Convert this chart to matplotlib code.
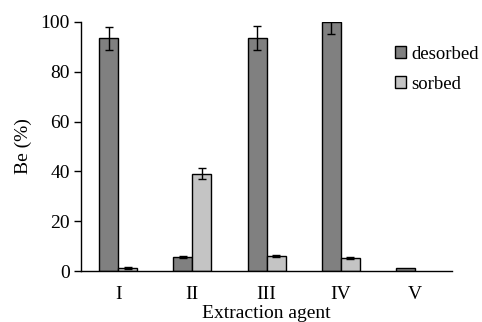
import numpy as np
import matplotlib
matplotlib.use("Agg")
from matplotlib import pyplot as plt

agents = ["I", "II", "III", "IV", "V"]
desorbed = [93.4, 5.7, 93.4, 99.9, 1.3]
desorbed_err = [4.7, 0.4, 4.8, 4.7, np.nan]
sorbed = [1.3, 39.1, 6.0, 5.2, 0.0]
sorbed_err = [0.3, 2.1, 0.3, 0.3, np.nan]

plt.rcParams['font.family'] = ['Liberation Serif', 'DejaVu Serif']
plt.rcParams['font.size'] = 14

fig = plt.figure(figsize=(4.82, 3.22), dpi=100)
ax = fig.add_axes([0.168, 0.158, 0.770, 0.774])

x = np.arange(len(agents))
width = 0.256
ax.bar(x - width / 2, desorbed, width, color='#808080', edgecolor='black',
       linewidth=[1.0 if v > 0 else 0 for v in desorbed],
       label='desorbed', zorder=2)
ax.bar(x + width / 2, sorbed, width, color='#c4c4c4', edgecolor='black',
       linewidth=[1.0 if v > 0 else 0 for v in sorbed],
       label='sorbed', zorder=2)
ax.errorbar(x - width / 2, desorbed, yerr=desorbed_err, fmt='none',
            ecolor='black', elinewidth=1.0, capsize=3, capthick=1.0, zorder=3)
ax.errorbar(x + width / 2, sorbed, yerr=sorbed_err, fmt='none',
            ecolor='black', elinewidth=1.0, capsize=3, capthick=1.0, zorder=3)

ax.set_xlim(-0.5, len(agents) - 0.5)
ax.set_ylim(0, 100)
ax.set_yticks([0, 20, 40, 60, 80, 100])
ax.set_xticks(x, agents)
ax.tick_params(axis='x', length=0, pad=11)
ax.tick_params(axis='y', direction='out', length=5, width=1.0, pad=3)
ax.spines['top'].set_visible(False)
ax.spines['right'].set_visible(False)
ax.spines['left'].set_linewidth(1.0)
ax.spines['bottom'].set_linewidth(1.0)
ax.set_ylabel("Be (%)", labelpad=6)
ax.set_xlabel("Extraction agent", labelpad=1)

ax.legend(loc='upper left', bbox_to_anchor=(0.825, 0.935), frameon=False,
          fontsize=13.5, handlelength=0.6, handleheight=0.6,
          handletextpad=0.3, labelspacing=0.7, borderaxespad=0)

fig.savefig("out.png", dpi=100)
